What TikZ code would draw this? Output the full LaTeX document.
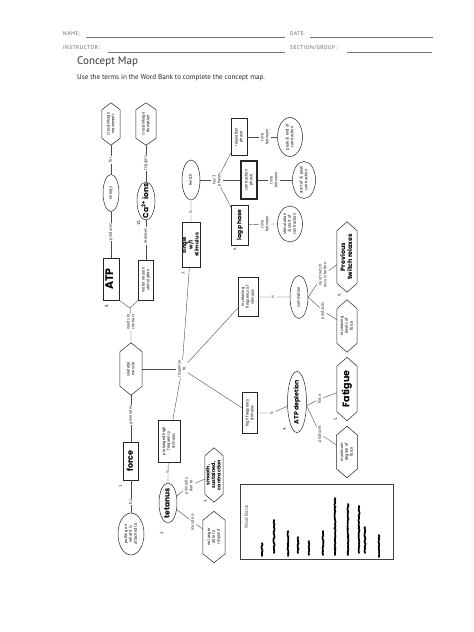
\documentclass[tikz,border=0pt]{standalone}
\usepackage{graphicx}
\usepackage{fontspec}
\setmainfont{PT Sans}
\newfontfamily\hand{Poppins}
\newfontfamily\headfont[LetterSpace=8]{PT Sans}
\usetikzlibrary{shapes.geometric,decorations.pathmorphing}
\newcommand{\rt}[1]{\rotatebox{90}{\begin{tabular}{@{}c@{}}#1\end{tabular}}}
\newcommand{\rz}[1]{\makebox[0pt]{\raisebox{-0.5\height}[0pt][0pt]{\rt{#1}}}}
\newcommand{\hexdraw}[2]{\draw[hexline] ([yshift=-#2]#1.north west) -- (#1.north) -- ([yshift=-#2]#1.north east) -- ([yshift=#2]#1.south east) -- (#1.south) -- ([yshift=#2]#1.south west) -- cycle;}
\begin{document}
\begin{tikzpicture}[x=1pt,y=-1pt,
  sz/.style 2 args={minimum width=#1pt, minimum height=#2pt},
  small/.style={font=\fontsize{4.3}{4.8}\selectfont},
  lbl/.style={small, inner sep=0.8pt, text=black!85},
  num/.style={inner sep=0pt, font=\fontsize{4.5}{5}\selectfont, text=black!85},
  box/.style={small, draw=black!85, line width=0.5pt, rectangle, inner sep=0pt},
  ell/.style={small, draw=black!85, line width=0.5pt, ellipse, inner sep=0pt},
  hexn/.style={small, inner sep=0pt},
  hexline/.style={draw=black!85, line width=0.5pt},
  conn/.style={draw=black!70, line width=0.4pt},
  hw/.style={font=\hand\bfseries\fontsize{#1}{#1}\selectfont},
  scrib/.style={line width=1.7pt, line cap=round, decorate, decoration={random steps, segment length=1.5pt, amplitude=0.5pt}},
  head/.style={anchor=west, inner sep=0pt, font=\headfont\fontsize{5.5}{6}\selectfont, text=black!60},
  formline/.style={draw=black!55, line width=0.5pt}]
\useasboundingbox (0,0) rectangle (474,632);
\fill[white] (0,0) rectangle (474,632);

% header
\node[head] (nm) at (63,34) {NAME:};
\coordinate (nmA) at (86,37); \coordinate (nmB) at (285,37);
\draw[formline] (nmA) -- (nmB);
\node[head] (dt) at (290,34) {DATE:};
\coordinate (dtA) at (310,37); \coordinate (dtB) at (433,37);
\draw[formline] (dtA) -- (dtB);
\node[head] (ins) at (63,48) {INSTRUCTOR:};
\coordinate (insA) at (108,52); \coordinate (insB) at (285,52);
\draw[formline] (insA) -- (insB);
\node[head] (sec) at (290,48) {SECTION/GROUP:};
\coordinate (secA) at (347,52); \coordinate (secB) at (432,52);
\draw[formline] (secA) -- (secB);
\node[anchor=west, inner sep=0pt, font=\fontsize{11}{12}\selectfont, text=black!78] (title) at (77,62) {Concept Map};
\node[anchor=west, inner sep=0pt, font=\fontsize{7.1}{8}\selectfont, text=black!85] (instr) at (77,77.5) {Use the terms in the Word Bank to complete the concept map.};

% column 1
\node[hexn, sz={18}{42}] (cm) at (111,124) {\rz{crosslinkage\\movement}};
\hexdraw{cm}{7pt}
\node[lbl] (lfor) at (111,160) {\rt{for}};
\node[ell, sz={16}{37}] (energy) at (111,193) {\rz{energy}};
\node[lbl] (lprod1) at (111,232) {\rt{produces}};
\node[box, sz={16}{42}, hw=11] (atp) at (111,279) {\rz{ATP}};
\node[num] (n8) at (107,306) {\rt{8.}};
\draw[conn] (cm) -- (lfor) -- (energy) -- (lprod1) -- (atp);

% column 2
\node[hexn, sz={20}{42}] (cf) at (146,124) {\rz{crosslinkage\\formation}};
\hexdraw{cf}{7pt}
\node[lbl] (ltrig) at (146,163) {\rt{triggers}};
\node[ell, sz={18}{38}, hw=7.5] (ca) at (146,201) {\rz{Ca\textsuperscript{2+} ions}};
\node[num] (n10) at (139,223) {\rt{10.}};
\node[lbl] (lrel) at (146,236) {\rt{releases}};
\node[box, sz={15}{40}] (motor) at (146,280) {\rz{motor neuron\\stimulation}};
\draw[conn] (cf) -- (ltrig) -- (ca) -- (lrel) -- (motor);

% skeletal muscle
\coordinate (v) at (130,308);
\draw[conn] (atp.south east) -- (v) -- (motor.south west);
\node[lbl] (lneeds) at (131,322) {\rt{needs to\\contract}};
\node[hexn, sz={22}{52}] (skel) at (131,369) {\rz{skeletal\\muscle}};
\hexdraw{skel}{9pt}
\draw[conn] (v) -- (lneeds) -- (skel);
\node[lbl] (lgen) at (131,415) {\rt{generates}};
\node[box, sz={15}{38}, hw=8] (force) at (131,461) {\rz{force}};
\node[num] (n1) at (121,486) {\rt{1.}};
\node[lbl] (lby) at (131,502) {\rt{by}};
\node[ell, sz={26}{42}] (pull) at (131,534) {\rz{pulling on\\what it is\\attached to}};
\draw[conn] (skel) -- (lgen) -- (force) -- (lby) -- (pull);

% response
\node[lbl] (resp) at (182,369) {\rt{response\\to}};
\draw[conn] (skel) -- (resp);

% twitch branch
\node[box, sz={18}{45}, hw=5.3] (single) at (191,245) {\rz{single\\w/1\\stimulus}};
\node[num] (n7) at (184,273) {\rt{7.}};
\node[lbl] (lis1) at (191,212) {\rt{is}};
\node[ell, sz={18}{40}] (twitch) at (191,180) {\rz{twitch}};
\draw[conn] (resp) -- (single) -- (lis1) -- (twitch);
\node[lbl] (has3) at (217,180) {\rt{has 3\\phases}};
\draw[conn] (twitch) -- (has3);
\node[box, sz={16}{37}] (relax) at (239,137) {\rz{relaxation\\phase}};
\node[box, sz={16}{38}, line width=1.3pt] (contr) at (249,180) {\rz{contraction\\phase}};
\node[box, sz={17}{40}, hw=6] (lag) at (240,225) {\rz{lag phase}};
\node[num] (n6) at (235,249) {\rt{6.}};
\draw[conn] (has3) -- (relax);
\draw[conn] (has3) -- (contr);
\draw[conn] (has3) -- (lag);
\node[lbl] (tb1) at (265,137) {\rt{time\\between}};
\node[ell, sz={25}{39}] (e1) at (290,137) {\rz{peak \& end of\\contraction}};
\node[lbl] (tb2) at (274,180) {\rt{time\\between}};
\node[ell, sz={23}{37}] (e2) at (304,180) {\rz{start of \& peak\\contraction}};
\node[lbl] (tb3) at (265,224) {\rt{time\\between}};
\node[ell, sz={25}{36}] (e3) at (290,224) {\rz{stimulation\\\& start of\\contraction}};
\draw[conn] (relax) -- (tb1) -- (e1);
\draw[conn] (contr) -- (tb2) -- (e2);
\draw[conn] (lag) -- (tb3) -- (e3);

% summation branch
\node[box, sz={20}{39}] (incr) at (248,297) {\rz{increasing\\frequency of\\stimulus}};
\node[lbl] (lis2) at (273,297) {\rt{is}};
\node[ell, sz={18}{43}] (summ) at (299,297) {\rz{summation}};
\draw[conn] (resp) -- (incr) -- (lis2) -- (summ);
\node[lbl] (lnext) at (323,275) {\rt{next twitch\\occurs before}};
\node[hexn, sz={20}{70}, hw=6.3] (prev) at (347,257) {\rz{Previous\\twitch relaxes}};
\hexdraw{prev}{9pt}
\node[num] (n9) at (340,295) {\rt{9.}};
\node[lbl] (lprod2) at (323,311) {\rt{produces}};
\node[hexn, sz={20}{52}] (ilf) at (347,326) {\rz{increasing\\levels of\\force}};
\hexdraw{ilf}{9pt}
\draw[conn] (summ.east) -- (lnext) -- (prev);
\draw[conn] (summ.east) -- (lprod2) -- (ilf);

% fatigue branch
\node[box, sz={15}{41}] (high) at (250,413) {\rz{high frequency\\stimulus}};
\node[lbl] (lis3) at (272,413) {\rt{is}};
\node[ell, sz={19}{61}, hw=6.3] (atpd) at (297,402) {\rz{ATP depletion}};
\draw[conn] (resp) -- (high) -- (lis3) -- (atpd);
\node[num] (n4) at (285,429) {\rt{4.}};
\node[lbl] (lhasa) at (320,399) {\rt{has a}};
\node[hexn, sz={20}{63}, hw=9.5] (fat) at (347,389) {\rz{Fatigue}};
\hexdraw{fat}{9pt}
\node[num] (n5) at (336,419) {\rt{5.}};
\node[lbl] (lprod3) at (320,434) {\rt{produces}};
\node[hexn, sz={21}{51}] (max) at (347,452) {\rz{maximum\\degree of\\force}};
\hexdraw{max}{9pt}
\draw[conn] (atpd.-20) -- (lhasa) -- (fat);
\draw[conn] (atpd.-20) -- (lprod3) -- (max);

% tetanus branch
\node[box, sz={22}{42}] (prol) at (169,441) {\rz{prolonged high\\frequency\\stimulus}};
\node[lbl] (lis4) at (168,472) {\rt{is}};
\node[ell, sz={18}{40}, hw=7.5] (tet) at (168,503) {\rz{tetanus}};
\draw[conn] (resp) -- (prol) -- (lis4) -- (tet);
\node[num] (n2) at (162,533) {\rt{2.}};
\node[lbl] (lprim) at (189,486) {\rt{primarily\\due to}};
\node[hexn, sz={18}{54}, hw=5] (smooth) at (214,475) {\rz{smooth,\\sustained,\\contraction}};
\hexdraw{smooth}{8pt}
\node[num] (n3) at (206,501) {\rt{3.}};
\node[lbl] (lmus) at (193,522) {\rt{muscle is}};
\node[hexn, sz={22}{51}] (nolong) at (214,537) {\rz{no longer\\able to\\respond}};
\hexdraw{nolong}{9pt}
\draw[conn] (tet) -- (lprim) -- (smooth);
\draw[conn] (tet) -- (lmus) -- (nolong);

% word bank
\node[draw=black!75, line width=0.6pt, sz={153}{75}, inner sep=0pt] (wb) at (316.5,521.5) {};
\node[lbl, font=\fontsize{5}{5.5}\selectfont, text=black!70] (wbt) at (247,517) {\rt{Word Bank}};
\foreach \x/\t/\b in {262/543/556, 274/520/553, 288/531/556, 298/537/553, 309/541/555, 323/531/555, 335/498/555, 348/504/555, 359/506/553, 365/527/553, 379/535/557}{
  \draw[scrib] (\x,\t) -- (\x,\b);
}
\end{tikzpicture}
\end{document}
